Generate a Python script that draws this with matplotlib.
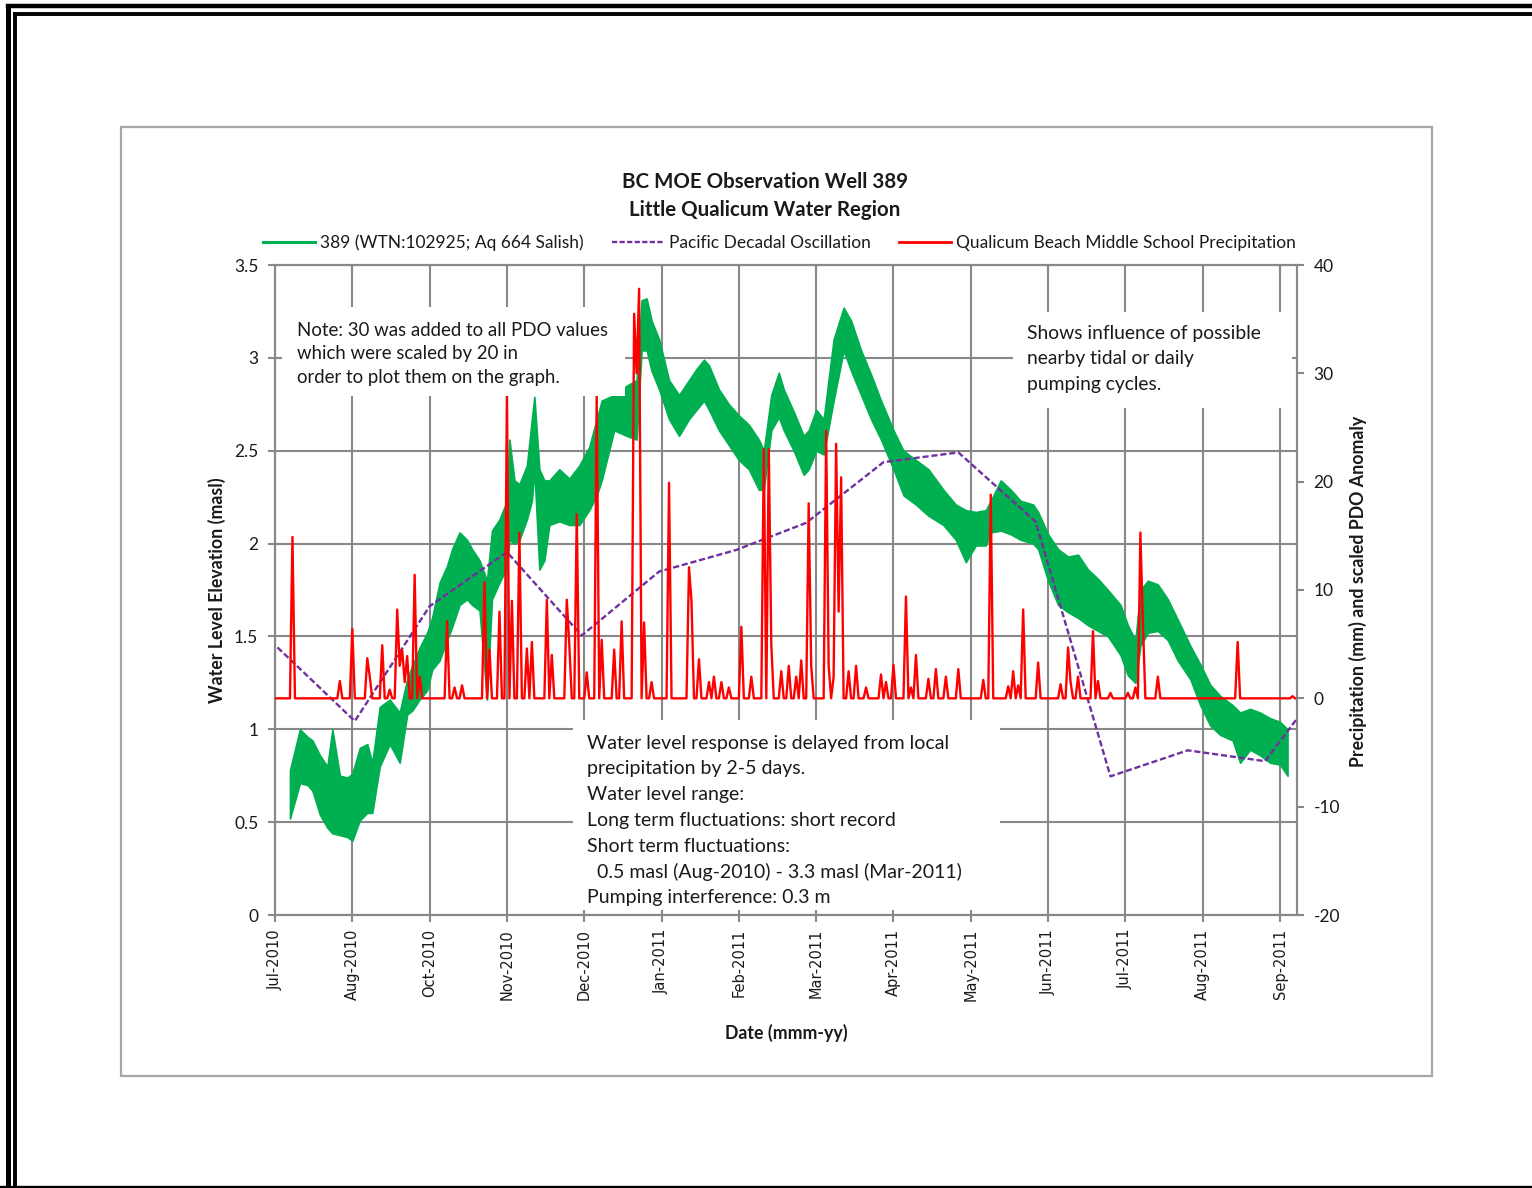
import numpy as np
import pandas as pd
import matplotlib
matplotlib.use("Agg")
import matplotlib.pyplot as plt
import matplotlib.dates as mdates
from matplotlib.lines import Line2D
from matplotlib.patches import Rectangle
from matplotlib.ticker import FuncFormatter

# ---------------- data ----------------
well_dates = ['2010-08-06','2010-08-10','2010-08-13','2010-08-15','2010-08-18','2010-08-21','2010-08-23',
              '2010-08-26','2010-08-29','2010-08-31','2010-09-03','2010-09-06','2010-09-08','2010-09-11',
              '2010-09-15','2010-09-19','2010-09-22','2010-09-24','2010-09-27','2010-09-30','2010-10-02',
              '2010-10-05','2010-10-08','2010-10-10','2010-10-13','2010-10-16','2010-10-18','2010-10-21',
              '2010-10-24','2010-10-26','2010-10-29','2010-11-01','2010-11-02','2010-11-04','2010-11-06',
              '2010-11-09','2010-11-11','2010-11-12','2010-11-14','2010-11-16','2010-11-18','2010-11-22',
              '2010-11-26','2010-11-30','2010-12-04','2010-12-07','2010-12-09','2010-12-14','2010-12-19',
              '2010-12-23','2010-12-25','2010-12-27','2010-12-29','2011-01-01','2011-01-05','2011-01-09',
              '2011-01-13','2011-01-16','2011-01-19','2011-01-21','2011-01-25','2011-01-29','2011-02-02',
              '2011-02-06','2011-02-10','2011-02-12','2011-02-15','2011-02-18','2011-02-20','2011-02-24',
              '2011-02-28','2011-03-02','2011-03-05','2011-03-08','2011-03-12','2011-03-16','2011-03-19',
              '2011-03-23','2011-03-27','2011-03-31','2011-04-05','2011-04-09','2011-04-14','2011-04-19',
              '2011-04-25','2011-04-30','2011-05-04','2011-05-08','2011-05-12','2011-05-14','2011-05-18',
              '2011-05-22','2011-05-26','2011-05-31','2011-06-02','2011-06-06','2011-06-10','2011-06-14',
              '2011-06-18','2011-06-22','2011-06-26','2011-06-30','2011-07-05','2011-07-08','2011-07-11',
              '2011-07-13','2011-07-16','2011-07-20','2011-07-24','2011-07-28','2011-08-02','2011-08-06',
              '2011-08-10','2011-08-14','2011-08-19','2011-08-22','2011-08-26','2011-08-30','2011-09-03',
              '2011-09-07','2011-09-10']
well_low = [0.52, 0.71, 0.70, 0.67, 0.54, 0.47, 0.44, 0.43, 0.42, 0.40, 0.51, 0.55, 0.55, 0.80,
            0.92, 0.82, 1.08, 1.10, 1.16, 1.21, 1.32, 1.37, 1.48, 1.55, 1.67, 1.70, 1.67, 1.64,
            1.16, 1.70, 1.79, 1.87, 2.02, 2.00, 2.02, 2.13, 2.23, 2.40, 1.86, 1.91, 2.10, 2.12,
            2.10, 2.10, 2.18, 2.26, 2.34, 2.61, 2.58, 2.56, 3.04, 3.04, 2.93, 2.83, 2.67, 2.58,
            2.67, 2.72, 2.77, 2.72, 2.61, 2.53, 2.45, 2.40, 2.29, 2.29, 2.61, 2.68, 2.61, 2.50,
            2.37, 2.40, 2.50, 2.48, 2.77, 3.04, 2.93, 2.80, 2.67, 2.56, 2.40, 2.26, 2.21, 2.15,
            2.10, 2.02, 1.90, 1.99, 1.99, 2.06, 2.07, 2.05, 2.02, 2.00, 1.97, 1.80, 1.67, 1.63,
            1.60, 1.56, 1.53, 1.50, 1.40, 1.29, 1.25, 1.45, 1.52, 1.53, 1.48, 1.37, 1.27, 1.13,
            1.02, 0.97, 0.94, 0.82, 0.89, 0.86, 0.82, 0.81, 0.75]
well_high = [0.78, 1.00, 0.96, 0.94, 0.86, 0.80, 1.00, 0.75, 0.74, 0.76, 0.90, 0.92, 0.82, 1.12,
             1.16, 1.09, 1.27, 1.34, 1.44, 1.52, 1.60, 1.79, 1.88, 1.97, 2.06, 2.02, 1.97, 1.91,
             1.80, 2.07, 2.13, 2.23, 2.56, 2.34, 2.32, 2.42, 2.67, 2.79, 2.40, 2.34, 2.34, 2.40,
             2.35, 2.42, 2.52, 2.67, 2.77, 2.80, 2.85, 2.88, 3.31, 3.32, 3.20, 3.10, 2.88, 2.80,
             2.88, 2.94, 2.99, 2.96, 2.83, 2.75, 2.69, 2.64, 2.56, 2.50, 2.80, 2.92, 2.83, 2.71,
             2.58, 2.61, 2.72, 2.67, 3.10, 3.27, 3.20, 3.04, 2.91, 2.77, 2.61, 2.50, 2.45, 2.40,
             2.29, 2.21, 2.18, 2.17, 2.18, 2.23, 2.34, 2.29, 2.23, 2.21, 2.17, 2.05, 1.97, 1.93,
             1.94, 1.86, 1.81, 1.75, 1.67, 1.56, 1.48, 1.75, 1.80, 1.78, 1.70, 1.59, 1.45, 1.35,
             1.24, 1.18, 1.13, 1.09, 1.11, 1.09, 1.06, 1.04, 1.00]

pdo_dates = ['2010-08-01', '2010-09-01', '2010-10-01', '2010-11-01', '2010-12-01', '2011-01-01',
             '2011-02-01', '2011-03-01', '2011-04-01', '2011-05-01', '2011-06-01', '2011-07-01',
             '2011-08-01', '2011-09-01', '2011-10-01']
pdo_values = [4.7, -2.1, 8.5, 13.5, 5.8, 11.7, 13.7, 16.2, 21.8, 22.7, 16.3, -7.2, -4.8, -5.8, 3.4]

precip_start = '2010-07-31'
precip_end = '2011-09-13'
precip_dates = ['2010-08-07', '2010-08-26', '2010-08-31', '2010-09-06', '2010-09-07', '2010-09-12',
                '2010-09-15', '2010-09-18', '2010-09-19', '2010-09-20', '2010-09-21', '2010-09-22',
                '2010-09-25', '2010-09-27', '2010-10-08', '2010-10-11', '2010-10-14', '2010-10-23',
                '2010-10-25', '2010-10-29', '2010-11-01', '2010-11-03', '2010-11-06', '2010-11-09',
                '2010-11-11', '2010-11-17', '2010-11-19', '2010-11-25', '2010-11-26', '2010-11-29',
                '2010-12-03', '2010-12-07', '2010-12-09', '2010-12-14', '2010-12-17', '2010-12-22',
                '2010-12-23', '2010-12-24', '2010-12-26', '2010-12-29', '2011-01-05', '2011-01-13',
                '2011-01-14', '2011-01-17', '2011-01-21', '2011-01-23', '2011-01-26', '2011-01-29',
                '2011-02-03', '2011-02-07', '2011-02-12', '2011-02-14', '2011-02-15', '2011-02-19',
                '2011-02-22', '2011-02-25', '2011-02-27', '2011-03-02', '2011-03-03', '2011-03-09',
                '2011-03-10', '2011-03-12', '2011-03-13', '2011-03-14', '2011-03-15', '2011-03-18',
                '2011-03-21', '2011-03-25', '2011-03-31', '2011-04-02', '2011-04-05', '2011-04-10',
                '2011-04-12', '2011-04-14', '2011-04-19', '2011-04-22', '2011-04-26', '2011-05-01',
                '2011-05-11', '2011-05-14', '2011-05-21', '2011-05-23', '2011-05-25', '2011-05-27',
                '2011-06-02', '2011-06-11', '2011-06-14', '2011-06-15', '2011-06-18', '2011-06-24',
                '2011-06-26', '2011-07-01', '2011-07-08', '2011-07-11', '2011-07-13', '2011-07-14',
                '2011-07-20', '2011-08-21', '2011-09-12']
precip_mm = [14.9, 1.6, 6.4, 3.7, 2.0, 4.9,
             0.8, 8.2, 3.0, 4.5, 1.5, 3.9,
             11.4, 2.0, 7.1, 1.0, 1.2, 10.7,
             4.5, 8.0, 28.0, 9.0, 15.3, 4.6,
             5.2, 9.1, 4.0, 9.1, 5.0, 17.0,
             2.4, 27.9, 5.4, 4.5, 7.1, 35.5,
             30.0, 37.8, 7.0, 1.5, 19.9, 12.1,
             9.0, 3.6, 1.5, 2.0, 1.5, 1.0,
             6.6, 2.0, 23.0, 23.0, 5.0, 2.5,
             3.0, 2.0, 3.5, 18.0, 3.0, 24.7,
             3.0, 2.0, 23.5, 8.0, 20.4, 2.5,
             3.0, 1.0, 2.2, 1.5, 3.1, 9.4,
             1.0, 4.0, 1.8, 2.7, 2.0, 2.7,
             1.7, 18.8, 1.1, 2.5, 1.2, 8.2,
             3.3, 1.3, 4.7, 1.5, 2.0, 6.2,
             1.6, 0.5, 0.5, 1.0, 15.3, 7.0,
             2.0, 5.2, 0.2]

left_ticks = [0, 0.5, 1, 1.5, 2, 2.5, 3, 3.5]
right_ticks = [-20, -10, 0, 10, 20, 30, 40]

title_lines = ["BC MOE Observation Well 389", "Little Qualicum Water Region"]
series_names = ["389 (WTN:102925; Aq 664 Salish)", "Pacific Decadal Oscillation",
                "Qualicum Beach Middle School Precipitation"]
note_lines = ["Note: 30 was added to all PDO values", "which were scaled by 20 in",
              "order to plot them on the graph."]
tidal_lines = ["Shows influence of possible", "nearby tidal or daily", "pumping cycles."]
summary_lines = ["Water level response is delayed from local", "precipitation by 2-5 days.",
                 "Water level range:", "Long term fluctuations: short record", "Short term fluctuations:",
                 "  0.5 masl (Aug-2010) - 3.3 masl (Mar-2011)", "Pumping interference: 0.3 m"]

# ---------------- styling ----------------
W, H = 1532, 1188
plt.rcParams['font.family'] = ['Lato', 'DejaVu Sans']
plt.rcParams['axes.unicode_minus'] = False
GREEN = '#00B050'
RED = '#FF0000'
PURPLE = '#7030A0'
GRID = '#888888'
TXT = '#1a1a1a'

def fx(x):
    return x / W

def fy(y):
    return 1 - y / H

fig = plt.figure(figsize=(W / 100, H / 100), dpi=100)
fig.patch.set_facecolor('white')

# page border (double line) and chart-area frame
for (x0, y0, x1, y1, lw) in [(8, 6, W, 6, 3.2), (8, 6, 8, H, 3.6),
                             (15, 14, W, 14, 2.8), (15, 14, 15, H, 2.8),
                             (0, 1186.5, W, 1186.5, 2.4)]:
    fig.add_artist(Line2D([fx(x0), fx(x1)], [fy(y0), fy(y1)], color='black', lw=lw,
                          transform=fig.transFigure, zorder=1))
fig.add_artist(Rectangle((fx(121), fy(1076)), fx(1432) - fx(121), fy(127) - fy(1076),
                         transform=fig.transFigure, fill=False, edgecolor='#a6a6a6', lw=1.6, zorder=1))

ax = fig.add_axes([fx(275), fy(915), fx(1297) - fx(275), fy(265) - fy(915)])
ax2 = ax.twinx()

# water level band
wd = pd.to_datetime(well_dates)
ax.fill_between(wd, well_low, well_high, color=GREEN, edgecolor=GREEN, lw=1.2, zorder=3)

# PDO and precipitation on secondary axis
ax2.plot(pd.to_datetime(pdo_dates), pdo_values, color=PURPLE, lw=1.7, dashes=(2.6, 1.2), zorder=3)
days = pd.date_range(precip_start, precip_end, freq='D')
precip = pd.Series(0.0, index=days)
precip.loc[pd.to_datetime(precip_dates)] = precip_mm
ax2.plot(precip.index, precip.values, color=RED, lw=1.7, zorder=4)

# axes scales
t0 = pd.Timestamp('2010-07-31')
ax.set_xlim(mdates.date2num(t0), mdates.date2num(t0) + 409.8)
xticks = [mdates.date2num(t0 + pd.Timedelta(days=31 * k)) for k in range(14)]
ax.set_xticks(xticks)
ax.xaxis.set_major_formatter(mdates.DateFormatter('%b-%Y'))
ax.set_ylim(0, 3.5)
ax.set_yticks(left_ticks)
ax.yaxis.set_major_formatter(FuncFormatter(lambda v, p: '%g' % v))
ax2.set_ylim(-20, 40)
ax2.set_yticks(right_ticks)

ax.grid(True, color=GRID, lw=1.5, zorder=0)
ax.set_axisbelow(True)
for a in (ax, ax2):
    for s in a.spines.values():
        s.set_color(GRID)
        s.set_linewidth(1.5)
ax.tick_params(axis='both', direction='out', length=5, width=1.5, color=GRID, labelcolor=TXT)
ax.tick_params(axis='y', labelsize=12.5, pad=7)
ax.tick_params(axis='x', pad=5)
ax2.tick_params(axis='y', direction='out', length=5, width=1.5, color=GRID, labelcolor=TXT,
                labelsize=12.5, pad=7)
for lab in ax.get_xticklabels():
    lab.set_rotation(90)
    lab.set_fontfamily('DejaVu Sans')
    lab.set_fontsize(10.5)
    lab.set_va('top')
    lab.set_ha('center')

# titles & axis labels
fig.text(fx(765), fy(182), title_lines[0], ha='center', va='center', fontsize=14.8, fontweight='bold', color=TXT)
fig.text(fx(765), fy(210), title_lines[1], ha='center', va='center', fontsize=14.8, fontweight='bold', color=TXT)
fig.text(fx(217), fy(590), "Water Level Elevation (masl)", rotation=90, ha='center', va='center',
         fontsize=12.8, fontweight='bold', color=TXT)
fig.text(fx(1358), fy(591), "Precipitation (mm) and scaled PDO Anomaly", rotation=90, ha='center',
         va='center', fontsize=12.8, fontweight='bold', color=TXT)
fig.text(fx(786), fy(1033), "Date (mmm-yy)", ha='center', va='center', fontsize=12.8,
         fontweight='bold', color=TXT)

# legend
handles = [Line2D([], [], color=GREEN, lw=2.2),
           Line2D([], [], color=PURPLE, lw=1.7, dashes=(2.2, 1.0)),
           Line2D([], [], color=RED, lw=2.0)]
leg = fig.legend(handles, series_names, loc='center', bbox_to_anchor=(fx(779.5), fy(243)),
                 bbox_transform=fig.transFigure, ncol=3, frameon=False, fontsize=12.5,
                 handlelength=3.0, handletextpad=0.3, columnspacing=1.6, borderpad=0)
for t in leg.get_texts():
    t.set_color(TXT)

# annotation boxes (white, borderless) with text
def box(x0, y0, x1, y1):
    fig.add_artist(Rectangle((fx(x0), fy(y1)), fx(x1) - fx(x0), fy(y0) - fy(y1),
                             transform=fig.transFigure, facecolor='white', edgecolor='none', zorder=5))

def lines_at(lines, x, y_first, step, size):
    for i, s in enumerate(lines):
        fig.text(fx(x), fy(y_first + i * step), s, ha='left', va='center', fontsize=size,
                 color=TXT, zorder=6)

box(282, 307, 625, 396)
lines_at(note_lines, 297, 330, 24, 13.4)
box(1013, 312, 1292, 408)
lines_at(tidal_lines, 1027, 333, 25.5, 13.9)
box(573, 720, 1000, 910)
lines_at(summary_lines, 587, 743, 25.8, 14.0)

fig.savefig('out.png', dpi=100)
